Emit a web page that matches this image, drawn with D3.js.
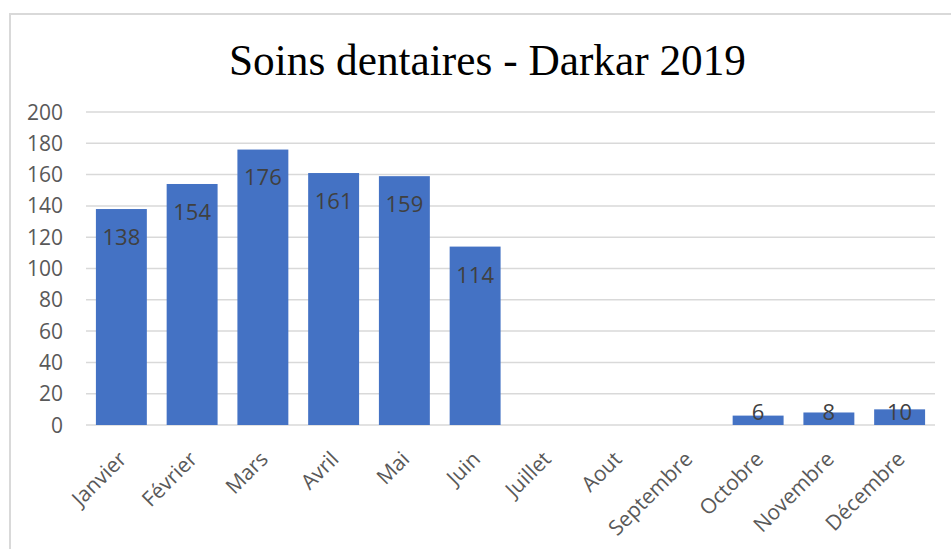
<!DOCTYPE html>
<html>
<head>
<meta charset="utf-8">
<style>
html, body { margin: 0; padding: 0; background: #fff; }
svg { display: block; }
</style>
<script src="https://cdn.jsdelivr.net/npm/d3@7/dist/d3.min.js"></script>
</head>
<body>
<script>
var months = ["Janvier", "Février", "Mars", "Avril", "Mai", "Juin", "Juillet", "Aout", "Septembre", "Octobre", "Novembre", "Décembre"];
var soins = [138, 154, 176, 161, 159, 114, null, null, null, 6, 8, 10];
var yTicks = [0, 20, 40, 60, 80, 100, 120, 140, 160, 180, 200];
var title = "Soins dentaires - Darkar 2019";

var w = 951, h = 549;
// plot area (window.top is reserved, so use other names)
var plotLeft = 86, plotRight = 935, plotTop = 112, plotBottom = 425;

var svg = d3.select("body").append("svg")
  .attr("width", w)
  .attr("height", h);

// chart frame, runs off the right and bottom edge
svg.append("rect")
  .attr("x", 10).attr("y", 14)
  .attr("width", 960).attr("height", 560)
  .attr("fill", "none")
  .attr("stroke", "#d9d9d9")
  .attr("stroke-width", 2);

svg.append("text")
  .attr("x", 487.5).attr("y", 75)
  .attr("text-anchor", "middle")
  .attr("font-family", "'Liberation Serif', serif")
  .attr("font-size", 45)
  .attr("textLength", 517)
  .attr("lengthAdjust", "spacingAndGlyphs")
  .attr("fill", "#000")
  .text(title);

var x = d3.scaleBand().domain(months).range([plotLeft, plotRight]).paddingInner(0.28).paddingOuter(0.14);
var y = d3.scaleLinear().domain([0, 200]).range([plotBottom, plotTop]);

// gridlines
svg.append("g").selectAll("line")
  .data(yTicks)
  .enter().append("line")
  .attr("x1", plotLeft).attr("x2", plotRight)
  .attr("y1", function(d) { return y(d); })
  .attr("y2", function(d) { return y(d); })
  .attr("stroke", "#d9d9d9")
  .attr("stroke-width", 1.5);

// y tick labels
svg.append("g").selectAll("text")
  .data(yTicks)
  .enter().append("text")
  .attr("x", 63)
  .attr("y", function(d) { return y(d); })
  .attr("dy", "0.36em")
  .attr("text-anchor", "end")
  .attr("font-family", "'Open Sans', sans-serif")
  .attr("font-size", 21)
  .attr("fill", "#595959")
  .text(function(d) { return d; });

var bars = months.map(function(m, i) { return { month: m, value: soins[i] }; })
  .filter(function(d) { return d.value != null; });

svg.append("g").selectAll("rect")
  .data(bars)
  .enter().append("rect")
  .attr("x", function(d) { return x(d.month); })
  .attr("y", function(d) { return y(d.value); })
  .attr("width", x.bandwidth())
  .attr("height", function(d) { return plotBottom - y(d.value); })
  .attr("fill", "#4472c4");

// value labels, inside end
svg.append("g").selectAll("text")
  .data(bars)
  .enter().append("text")
  .attr("x", function(d) { return x(d.month) + x.bandwidth() / 2; })
  .attr("y", function(d) { return Math.min(y(d.value) + 28, plotBottom - 12.5); })
  .attr("dy", "0.36em")
  .attr("text-anchor", "middle")
  .attr("font-family", "'Open Sans', sans-serif")
  .attr("font-size", 22)
  .attr("fill", "#404040")
  .text(function(d) { return d.value; });

// rotated month labels
svg.append("g").selectAll("text")
  .data(months)
  .enter().append("text")
  .attr("transform", function(d) {
    return "translate(" + (x(d) + x.bandwidth() / 2 - 4) + "," + 450 + ") rotate(-45)";
  })
  .attr("text-anchor", "end")
  .attr("dy", "0.7em")
  .attr("font-family", "'Open Sans', sans-serif")
  .attr("font-size", 21)
  .attr("fill", "#595959")
  .text(function(d) { return d; });
</script>
</body>
</html>
